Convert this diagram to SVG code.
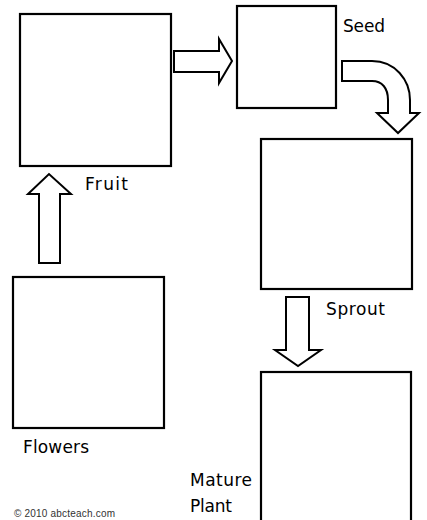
<svg xmlns="http://www.w3.org/2000/svg" width="427" height="520" viewBox="0 0 427 520">
<style>
.box{fill:#fff;stroke:#000;stroke-width:2.2}
.arr{fill:#fff;stroke:#000;stroke-width:2;stroke-linejoin:miter}
.lbl{font-family:"DejaVu Sans",sans-serif;font-size:17px;fill:#000}
.copy{font-family:"Liberation Sans",Arial,sans-serif;font-size:10px;fill:#333}
</style>
<rect width="427" height="520" fill="#fff"/>
<g id="connectors">
<path class="arr" d="M174,51 L219,51 L219,39 L232,61 L219,83 L219,72 L174,72 Z"/>
<path class="arr" d="M342,61 L372,61 C395,61 410,80 410,100 L410,113 L419,113 L398,133 L377,113 L388,113 L388,100 C388,88 382,81 372,81 L342,81 Z"/>
<path class="arr" d="M39,263 L39,194 L28,194 L49,174 L71,194 L60,194 L60,263 Z"/>
<path class="arr" d="M286,297 L309,297 L309,350 L321,350 L298,366 L275,350 L286,350 Z"/>
</g>
<g id="fruit">
<rect class="box" x="20" y="14" width="151" height="152"/>
<text class="lbl" x="85" y="190" textLength="43">Fruit</text>
</g>
<g id="seed">
<rect class="box" x="237" y="6" width="99" height="102"/>
<text class="lbl" x="343" y="32" textLength="42">Seed</text>
</g>
<g id="sprout">
<rect class="box" x="261" y="139" width="151" height="150"/>
<text class="lbl" x="326" y="315" textLength="59">Sprout</text>
</g>
<g id="mature">
<rect class="box" x="261" y="372" width="150" height="160"/>
<text class="lbl" x="190" y="486" textLength="62">Mature</text>
<text class="lbl" x="190" y="512" textLength="42">Plant</text>
</g>
<g id="flowers">
<rect class="box" x="13" y="277" width="151" height="151"/>
<text class="lbl" x="23" y="453" textLength="66">Flowers</text>
</g>
<text class="copy" x="14" y="517" textLength="101">© 2010 abcteach.com</text>
</svg>
